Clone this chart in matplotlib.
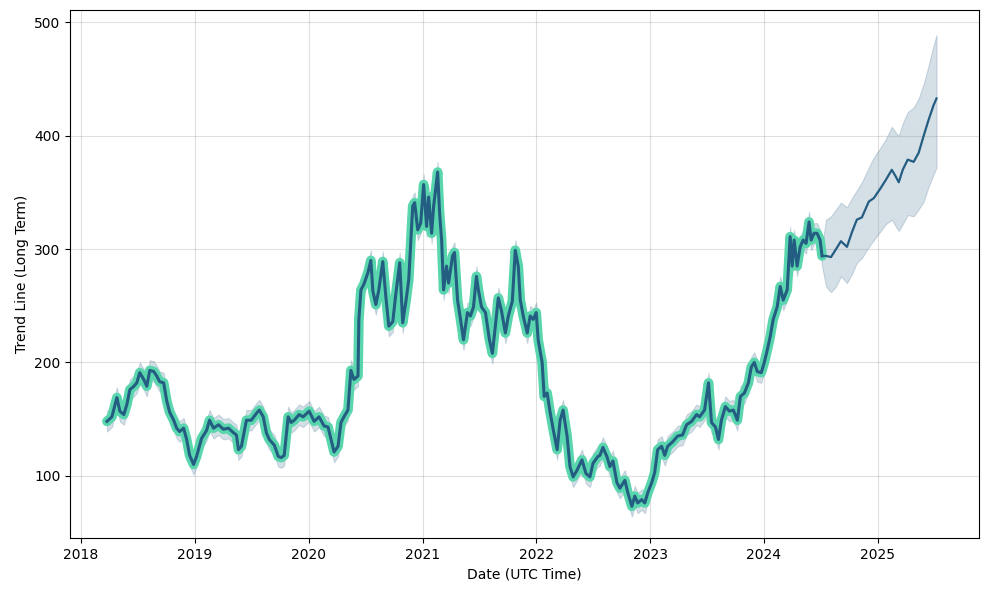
import numpy as np
import pandas as pd
import matplotlib
matplotlib.use('Agg')
import matplotlib.pyplot as plt
import matplotlib.dates as mdates

# --- history: decimal year and value ---
hist_year = [
    2018.228, 2018.271, 2018.315, 2018.341, 2018.376, 2018.403, 2018.429, 2018.464, 2018.490, 2018.516,
    2018.551, 2018.578, 2018.604, 2018.639, 2018.665, 2018.691, 2018.726, 2018.753, 2018.779, 2018.814,
    2018.840, 2018.866, 2018.901, 2018.928, 2018.954, 2018.989, 2019.015, 2019.059, 2019.103, 2019.129,
    2019.164, 2019.208, 2019.251, 2019.295, 2019.339, 2019.365, 2019.383, 2019.409, 2019.453, 2019.496,
    2019.540, 2019.566, 2019.601, 2019.628, 2019.654, 2019.698, 2019.733, 2019.759, 2019.785, 2019.820,
    2019.846, 2019.873, 2019.916, 2019.951, 2020.004, 2020.048, 2020.091, 2020.135, 2020.170, 2020.196,
    2020.223, 2020.258, 2020.284, 2020.310, 2020.345, 2020.371, 2020.398, 2020.433, 2020.441, 2020.459,
    2020.485, 2020.520, 2020.546, 2020.564, 2020.590, 2020.616, 2020.651, 2020.678, 2020.704, 2020.739,
    2020.765, 2020.800, 2020.826, 2020.853, 2020.879, 2020.914, 2020.931, 2020.958, 2020.984, 2021.010,
    2021.036, 2021.054, 2021.080, 2021.098, 2021.133, 2021.150, 2021.168, 2021.185, 2021.211, 2021.229,
    2021.264, 2021.281, 2021.308, 2021.334, 2021.360, 2021.395, 2021.421, 2021.448, 2021.474, 2021.491,
    2021.518, 2021.553, 2021.588, 2021.614, 2021.640, 2021.666, 2021.693, 2021.728, 2021.754, 2021.789,
    2021.815, 2021.841, 2021.859, 2021.885, 2021.920, 2021.946, 2021.973, 2021.999, 2022.016, 2022.051,
    2022.069, 2022.095, 2022.121, 2022.148, 2022.183, 2022.209, 2022.235, 2022.270, 2022.296, 2022.323,
    2022.358, 2022.401, 2022.436, 2022.471, 2022.498, 2022.541, 2022.559, 2022.585, 2022.620, 2022.646,
    2022.673, 2022.708, 2022.734, 2022.778, 2022.804, 2022.839, 2022.865, 2022.891, 2022.926, 2022.953,
    2022.979, 2023.014, 2023.040, 2023.066, 2023.101, 2023.128, 2023.154, 2023.198, 2023.241, 2023.285,
    2023.320, 2023.364, 2023.408, 2023.434, 2023.478, 2023.513, 2023.539, 2023.574, 2023.600, 2023.626,
    2023.661, 2023.696, 2023.731, 2023.766, 2023.793, 2023.828, 2023.863, 2023.889, 2023.915, 2023.941,
    2023.976, 2024.003, 2024.029, 2024.055, 2024.081, 2024.116, 2024.143, 2024.169, 2024.204, 2024.230,
    2024.248, 2024.265, 2024.291, 2024.318, 2024.344, 2024.370, 2024.396, 2024.414, 2024.440, 2024.466,
    2024.493, 2024.510,
]
hist_value = [
    148, 152, 169, 157, 154, 163, 176, 179, 182, 191,
    185, 179, 193, 192, 188, 183, 182, 166, 156, 149,
    142, 139, 142, 132, 118, 110, 117, 133, 140, 149,
    142, 145, 141, 142, 138, 136, 123, 126, 149, 149,
    155, 158, 152, 138, 132, 127, 117, 116, 118, 152,
    147, 149, 154, 152, 157, 148, 152, 144, 143, 132,
    121, 126, 147, 152, 158, 193, 185, 188, 238, 264,
    269, 279, 290, 263, 251, 264, 289, 258, 232, 236,
    260, 288, 235, 253, 273, 338, 341, 317, 323, 357,
    320, 346, 314, 338, 368, 332, 308, 264, 285, 270,
    294, 297, 255, 238, 220, 244, 241, 249, 276, 264,
    249, 244, 220, 208, 232, 257, 246, 226, 241, 254,
    299, 285, 255, 241, 226, 241, 238, 244, 220, 200,
    170, 173, 156, 141, 123, 149, 158, 135, 108, 99,
    105, 114, 102, 99, 111, 117, 118, 125, 117, 108,
    113, 94, 89, 96, 85, 73, 82, 76, 79, 76,
    85, 94, 103, 123, 126, 118, 126, 130, 135, 136,
    145, 148, 154, 152, 158, 182, 147, 143, 132, 149,
    161, 157, 158, 149, 170, 173, 182, 196, 200, 192,
    191, 200, 211, 223, 238, 249, 267, 255, 264, 311,
    285, 308, 285, 302, 308, 305, 324, 308, 314, 314,
    308, 294,
]
hist_spread = 9

# --- forecast ---
fc_year = [
    2024.545, 2024.589, 2024.633, 2024.676, 2024.729, 2024.773, 2024.816, 2024.860, 2024.921, 2024.965,
    2025.026, 2025.070, 2025.123, 2025.158, 2025.184, 2025.219, 2025.263, 2025.315, 2025.359, 2025.403,
    2025.446, 2025.490, 2025.516,
]
fc_value = [
    294, 293, 300, 307, 302, 315, 326, 328, 342, 345,
    354, 361, 370, 364, 359, 370, 379, 377, 385, 400,
    414, 427, 433,
]
fc_upper = [
    326, 329, 335, 341, 337, 345, 352, 359, 372, 381,
    390, 397, 408, 403, 400, 411, 421, 425, 433, 446,
    462, 480, 489,
]
fc_lower = [
    267, 262, 267, 276, 270, 278, 288, 292, 302, 308,
    316, 322, 326, 320, 316, 322, 330, 329, 335, 342,
    355, 366, 372,
]


def to_dates(years):
    years = np.asarray(years, dtype=float)
    return pd.to_datetime('2018-01-01') + pd.to_timedelta((years - 2018) * 365.25, unit='D')


hist_dates = to_dates(hist_year)
fc_dates = to_dates(fc_year)
hv = np.array(hist_value, dtype=float)

all_dates = hist_dates.append(fc_dates)
all_lower = np.concatenate([hv - hist_spread, fc_lower])
all_upper = np.concatenate([hv + hist_spread, fc_upper])

fig, ax = plt.subplots(figsize=(9.89, 5.9), dpi=100)
ax.fill_between(all_dates, all_lower, all_upper, color='#2a5f86', alpha=0.2, linewidth=0.8, zorder=1)
ax.plot(hist_dates, hv, color='#5ad6ae', linewidth=7, solid_capstyle='round', solid_joinstyle='round', zorder=2)
ax.plot(hist_dates, hv, color='#245d82', linewidth=2.2, zorder=3)
# forecast line joins on to the last history point
ax.plot(hist_dates[-1:].append(fc_dates), np.concatenate([hv[-1:], fc_value]),
        color='#245d82', linewidth=1.6, zorder=3)

ax.set_xlim(to_dates([2017.905])[0], to_dates([2025.89])[0])
ax.set_ylim(45, 511)
ax.xaxis.set_major_locator(mdates.YearLocator())
ax.xaxis.set_major_formatter(mdates.DateFormatter('%Y'))
ax.set_yticks([100, 200, 300, 400, 500])
ax.grid(True, color='gray', alpha=0.25)
ax.set_xlabel('Date (UTC Time)')
ax.set_ylabel('Trend Line (Long Term)')

plt.subplots_adjust(left=0.071, right=0.99, bottom=0.088, top=0.983)
plt.savefig('out.png', dpi=100)
